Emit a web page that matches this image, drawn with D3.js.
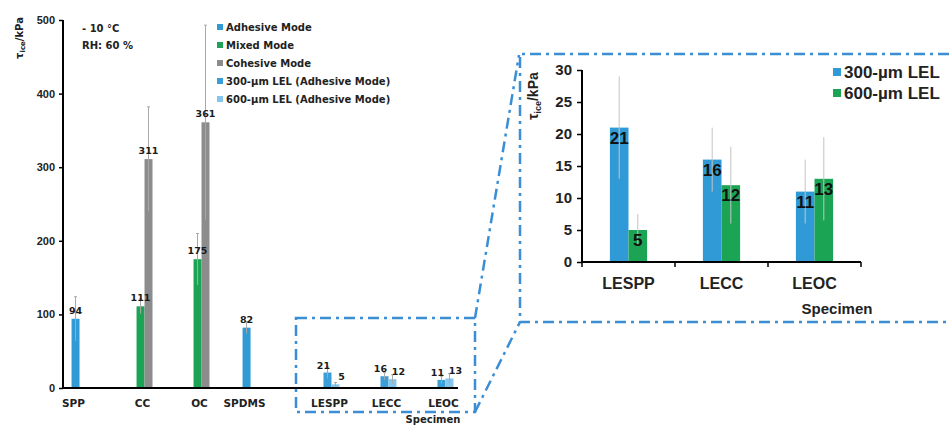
<!DOCTYPE html>
<html>
<head>
<meta charset="utf-8">
<script src="https://cdn.jsdelivr.net/npm/d3@7"></script>
<style>
  body { margin: 0; background: #fff; }
  svg { font-family: "Liberation Sans", Arial, sans-serif; font-weight: bold; }
  .chico { font-family: "DejaVu Sans", sans-serif; }
</style>
</head>
<body>
<div id="vis"></div>
<script>
const WIDTH = 949;
const HEIGHT = 428;

// datos
const categorias = ["SPP", "CC", "OC", "SPDMS", "LESPP", "LECC", "LEOC"];
const series = ["Adhesive Mode", "Mixed Mode", "Cohesive Mode",
  "300-µm LEL (Adhesive Mode)", "600-µm LEL (Adhesive Mode)"];
const adhesivo = [94, null, null, 82, null, null, null];
const mixto = [null, 111, 175, null, null, null, null];
const cohesivo = [null, 311, 361, null, null, null, null];
const lel300 = [null, null, null, null, 21, 16, 11];
const lel600 = [null, null, null, null, 5, 12, 13];
const errAdhesivo = [30, null, null, 8, null, null, null];
const errMixto = [null, 10, 35, null, null, null, null];
const errCohesivo = [null, 71, 132, null, null, null, null];
const errLel300 = [null, null, null, null, 8, 5, 5];
const errLel600 = [null, null, null, null, 2.5, 6, 6.5];
const ticksMain = [0, 100, 200, 300, 400, 500];

const catsZoom = ["LESPP", "LECC", "LEOC"];
const seriesZoom = ["300-µm LEL", "600-µm LEL"];
const ticksZoom = [0, 5, 10, 15, 20, 25, 30];

const colores = ["#2f9ad6", "#1ca455", "#8c8c8c", "#3a9fd8", "#86c6ec"];
const coloresZoom = ["#2f9ad6", "#1ca455"];
const AZUL_LINEA = "#3b8ed3";

const valores = [adhesivo, mixto, cohesivo, lel300, lel600];
const errores = [errAdhesivo, errMixto, errCohesivo, errLel300, errLel600];

const SVG = d3.select("#vis").append("svg")
  .attr("width", WIDTH).attr("height", HEIGHT);

// ---------- grafico principal ----------
const y = d3.scaleLinear().domain([0, 500]).range([388, 20]);
const x0 = d3.scaleBand().domain(categorias).range([63, 462])
  .paddingInner(0.3).paddingOuter(0.15);
const x1 = d3.scaleBand().domain(d3.range(series.length)).range([0, x0.bandwidth()]);

const barras = [];
valores.forEach((arr, s) => {
  arr.forEach((v, c) => {
    if (v != null) barras.push({ s, c, v, e: errores[s][c] });
  });
});

const gMain = SVG.append("g");

gMain.selectAll(".barra").data(barras).join("rect")
  .attr("class", "barra")
  .attr("x", d => x0(categorias[d.c]) + x1(d.s))
  .attr("y", d => y(d.v))
  .attr("width", x1.bandwidth())
  .attr("height", d => y(0) - y(d.v))
  .attr("fill", d => colores[d.s]);

// barras de error
const err = gMain.selectAll(".err").data(barras.filter(d => d.e)).join("g").attr("class", "err")
  .attr("stroke", "#a8a8a8").attr("stroke-width", 1);
err.append("line")
  .attr("x1", d => x0(categorias[d.c]) + x1(d.s) + x1.bandwidth() / 2)
  .attr("x2", d => x0(categorias[d.c]) + x1(d.s) + x1.bandwidth() / 2)
  .attr("y1", d => y(d.v - d.e))
  .attr("y2", d => y(d.v + d.e));
err.append("line")
  .attr("x1", d => x0(categorias[d.c]) + x1(d.s) + x1.bandwidth() / 2 - 1.5)
  .attr("x2", d => x0(categorias[d.c]) + x1(d.s) + x1.bandwidth() / 2 + 1.5)
  .attr("y1", d => y(d.v + d.e))
  .attr("y2", d => y(d.v + d.e));

// etiquetas de valores
const dxEtiqueta = [0, 0, 0, -4, 6];
gMain.selectAll(".valor").data(barras).join("text")
  .attr("class", "valor chico")
  .attr("x", d => x0(categorias[d.c]) + x1(d.s) + x1.bandwidth() / 2 + dxEtiqueta[d.s])
  .attr("y", d => y(d.v) - (d.s >= 3 ? 4 : 5))
  .attr("text-anchor", "middle")
  .attr("font-size", 9.5)
  .attr("fill", "#1a1a1a")
  .text(d => d.v);

// eje y
const ejeY = gMain.append("g").attr("transform", "translate(63,0)")
  .call(d3.axisLeft(y).tickValues(ticksMain).tickSize(4).tickPadding(4));
ejeY.select(".domain").attr("stroke-width", 2).attr("d", "M0," + y(500) + "V" + y(0));
ejeY.selectAll(".tick line").attr("stroke-width", 1.5);
ejeY.selectAll("text").attr("font-size", 11).attr("font-weight", "bold").attr("fill", "#222")
  .attr("font-family", "Liberation Sans, Arial");

// eje x
gMain.append("line").attr("x1", 62).attr("x2", 458).attr("y1", y(0)).attr("y2", y(0))
  .attr("stroke", "#000").attr("stroke-width", 2);

const centroGrupo = c => {
  const sl = barras.filter(d => d.c === c);
  const xs = sl.map(d => x0(categorias[d.c]) + x1(d.s));
  return (d3.min(xs) + d3.max(xs) + x1.bandwidth()) / 2;
};
gMain.selectAll(".cat").data(categorias).join("text")
  .attr("class", "cat chico")
  .attr("x", (d, i) => centroGrupo(i) - 2)
  .attr("y", 407)
  .attr("text-anchor", "middle")
  .attr("font-size", 10.5)
  .attr("fill", "#222")
  .text(d => d);

gMain.append("text").attr("class", "chico").attr("x", 433).attr("y", 423).attr("text-anchor", "middle")
  .attr("font-size", 10).attr("fill", "#222").text("Specimen");

// titulo del eje y
const tituloY = gMain.append("text").attr("class", "chico")
  .attr("transform", "translate(23,38) rotate(-90)")
  .attr("text-anchor", "middle").attr("font-size", 10).attr("fill", "#222");
tituloY.append("tspan").text("τ");
tituloY.append("tspan").attr("font-size", 7).attr("dy", 2).text("ice");
tituloY.append("tspan").attr("dy", -2).text("/kPa");

gMain.append("text").attr("class", "chico").attr("x", 82).attr("y", 32).attr("font-size", 10).attr("fill", "#222").text("- 10 °C");
gMain.append("text").attr("class", "chico").attr("x", 82).attr("y", 49).attr("font-size", 10).attr("fill", "#222").text("RH: 60 %");

// leyenda
const ley = gMain.selectAll(".ley").data(series).join("g").attr("class", "ley")
  .attr("transform", (d, i) => `translate(217,${27 + i * 18})`);
ley.append("rect").attr("x", 0).attr("y", -3).attr("width", 6).attr("height", 6)
  .attr("fill", (d, i) => colores[i]);
ley.append("text").attr("class", "chico").attr("x", 9).attr("y", 4).attr("font-size", 10).attr("fill", "#222").text(d => d);

// ---------- recuadros y conectores ----------
const lineaDash = sel => sel.attr("fill", "none").attr("stroke", AZUL_LINEA)
  .attr("stroke-width", 2.5).attr("stroke-dasharray", "11,5,3,5");

lineaDash(SVG.append("rect").attr("x", 296).attr("y", 318).attr("width", 179).attr("height", 94));
lineaDash(SVG.append("path").attr("d", "M949,54H520V322H949"));
lineaDash(SVG.append("path").attr("d", "M475,318L519,55"));
lineaDash(SVG.append("path").attr("d", "M475,412L520,322"));

// ---------- grafico ampliado ----------
const yZ = d3.scaleLinear().domain([0, 30]).range([262, 70]);
const xZ0 = d3.scaleBand().domain(catsZoom).range([582, 861]).paddingInner(0.6).paddingOuter(0.3);
const xZ1 = d3.scaleBand().domain(d3.range(2)).range([0, xZ0.bandwidth()]);

const valZ = [lel300.slice(4), lel600.slice(4)];
const errZ = [errLel300.slice(4), errLel600.slice(4)];
const barrasZ = [];
valZ.forEach((arr, s) => arr.forEach((v, c) => barrasZ.push({ s, c, v, e: errZ[s][c] })));

const gZ = SVG.append("g");
gZ.selectAll(".barraZ").data(barrasZ).join("rect")
  .attr("x", d => xZ0(catsZoom[d.c]) + xZ1(d.s))
  .attr("y", d => yZ(d.v))
  .attr("width", xZ1.bandwidth())
  .attr("height", d => yZ(0) - yZ(d.v))
  .attr("fill", d => coloresZoom[d.s]);

gZ.selectAll(".errZ").data(barrasZ).join("line")
  .attr("x1", d => xZ0(catsZoom[d.c]) + xZ1(d.s) + xZ1.bandwidth() / 2)
  .attr("x2", d => xZ0(catsZoom[d.c]) + xZ1(d.s) + xZ1.bandwidth() / 2)
  .attr("y1", d => yZ(d.v - d.e))
  .attr("y2", d => yZ(d.v + d.e))
  .attr("stroke", "#c4c4c4").attr("stroke-width", 1);

gZ.selectAll(".valorZ").data(barrasZ).join("text")
  .attr("x", d => xZ0(catsZoom[d.c]) + xZ1(d.s) + xZ1.bandwidth() / 2)
  .attr("y", d => yZ(d.v) + 16)
  .attr("text-anchor", "middle").attr("font-size", 17).attr("fill", "#111")
  .text(d => d.v);

const ejeYZ = gZ.append("g").attr("transform", "translate(582,0)")
  .call(d3.axisLeft(yZ).tickValues(ticksZoom).tickSize(5).tickPadding(5));
ejeYZ.select(".domain").attr("stroke-width", 2).attr("d", "M0," + yZ(30) + "V" + yZ(0));
ejeYZ.selectAll(".tick line").attr("stroke-width", 1.5);
ejeYZ.selectAll("text").attr("font-size", 15).attr("font-weight", "bold").attr("fill", "#222")
  .attr("font-family", "Liberation Sans, Arial");

gZ.append("line").attr("x1", 581).attr("x2", 861).attr("y1", yZ(0)).attr("y2", yZ(0))
  .attr("stroke", "#000").attr("stroke-width", 2);
const limites = d3.range(catsZoom.length + 1).map(i => 582 + i * xZ0.step());
gZ.selectAll(".tickZ").data(limites).join("line")
  .attr("x1", d => d).attr("x2", d => d)
  .attr("y1", yZ(0)).attr("y2", yZ(0) + 5)
  .attr("stroke", "#000").attr("stroke-width", 1.5);

gZ.selectAll(".catZ").data(catsZoom).join("text")
  .attr("x", d => xZ0(d) + xZ0.bandwidth() / 2)
  .attr("y", 289).attr("text-anchor", "middle").attr("font-size", 16).attr("fill", "#222")
  .text(d => d);
gZ.append("text").attr("x", 837).attr("y", 314).attr("text-anchor", "middle")
  .attr("font-size", 15).attr("fill", "#222").text("Specimen");

const tituloYZ = gZ.append("text")
  .attr("transform", "translate(538,96) rotate(-90)")
  .attr("text-anchor", "middle").attr("font-size", 14).attr("fill", "#222");
tituloYZ.append("tspan").text("τ");
tituloYZ.append("tspan").attr("font-size", 9).attr("dy", 3).text("ice");
tituloYZ.append("tspan").attr("dy", -3).text("/kPa");

const leyZ = gZ.selectAll(".leyZ").data(seriesZoom).join("g")
  .attr("transform", (d, i) => `translate(833,${72 + i * 21})`);
leyZ.append("rect").attr("x", 0).attr("y", -4).attr("width", 8).attr("height", 8)
  .attr("fill", (d, i) => coloresZoom[i]);
leyZ.append("text").attr("x", 11).attr("y", 6).attr("font-size", 17).attr("fill", "#222").text(d => d);
</script>
</body>
</html>
